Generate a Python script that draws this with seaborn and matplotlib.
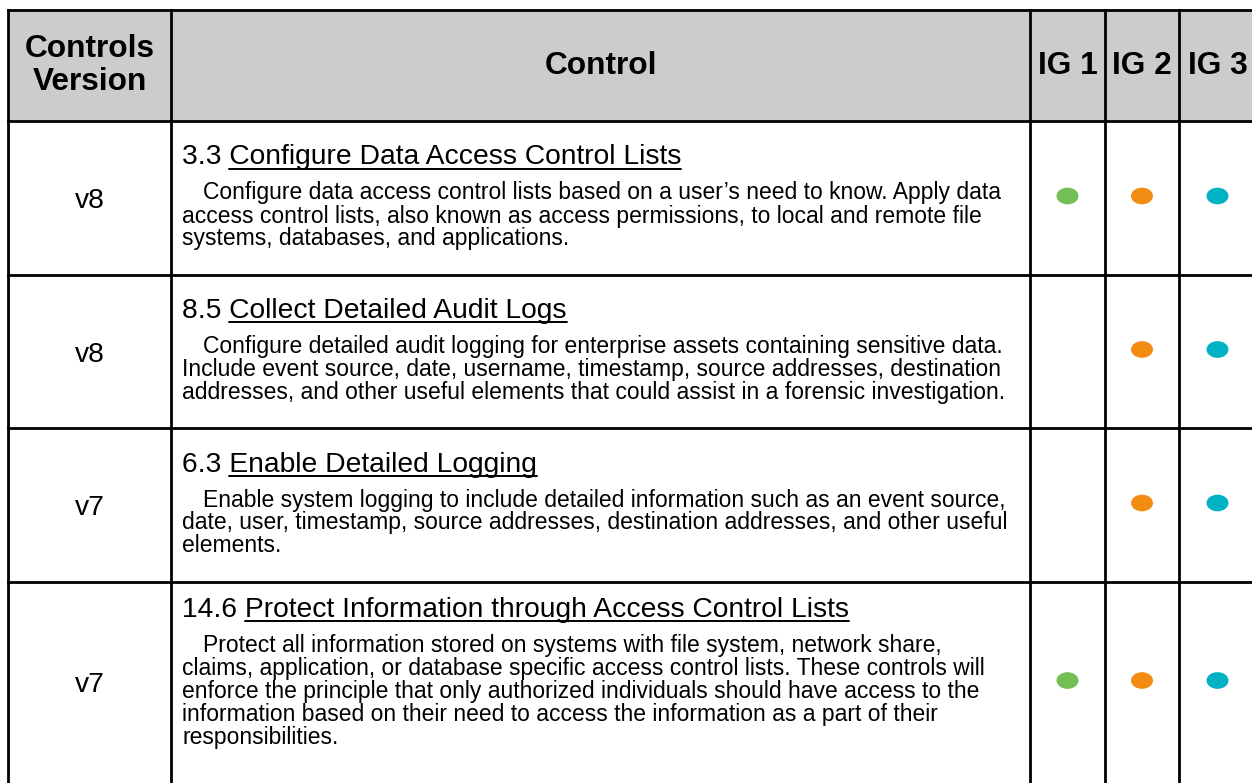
import numpy as np
import pandas as pd
import matplotlib
matplotlib.use("Agg")
import matplotlib.pyplot as plt
from matplotlib.path import Path
from matplotlib.transforms import Affine2D
import seaborn as sns

# table content
header_labels = ["Controls\nVersion", "Control", "IG 1", "IG 2", "IG 3"]
versions = ["v8", "v8", "v7", "v7"]
control_ids = ["3.3", "8.5", "6.3", "14.6"]
control_titles = [
    "Configure Data Access Control Lists",
    "Collect Detailed Audit Logs",
    "Enable Detailed Logging",
    "Protect Information through Access Control Lists",
]
descriptions = [
    ["Configure data access control lists based on a user\u2019s need to know. Apply data",
     "access control lists, also known as access permissions, to local and remote file",
     "systems, databases, and applications."],
    ["Configure detailed audit logging for enterprise assets containing sensitive data.",
     "Include event source, date, username, timestamp, source addresses, destination",
     "addresses, and other useful elements that could assist in a forensic investigation."],
    ["Enable system logging to include detailed information such as an event source,",
     "date, user, timestamp, source addresses, destination addresses, and other useful",
     "elements."],
    ["Protect all information stored on systems with file system, network share,",
     "claims, application, or database specific access control lists. These controls will",
     "enforce the principle that only authorized individuals should have access to the",
     "information based on their need to access the information as a part of their",
     "responsibilities."],
]
ig1 = [True, False, False, True]
ig2 = [True, True, True, True]
ig3 = [True, True, True, True]

ig_colors = {"IG 1": "#71bf55", "IG 2": "#f28c13", "IG 3": "#00b2c3"}

# layout in pixels
W, H = 1252, 783
col_edges = [8, 171, 1030, 1105, 1179, 1256]
row_edges = [10, 121, 275, 428, 582, 783]
text_shift = [0, 0, 0, -9]   # last row is cut off at the bottom
header_fill = "#cccccc"
line_w = 2.0

sns.set_theme(style="white")
plt.rcParams['font.family'] = ['Liberation Sans', 'DejaVu Sans']

fig = plt.figure(figsize=(W / 100, H / 100), dpi=100)
ax = fig.add_axes([0, 0, 1, 1])
ax.set_xlim(0, W)
ax.set_ylim(H, 0)
ax.axis('off')

# header background
ax.fill_between([col_edges[0], col_edges[-1]], row_edges[0], row_edges[1],
                color=header_fill, zorder=0, linewidth=0)

# grid lines
for x in col_edges:
    ax.plot([x, x], [row_edges[0], H + 5], color='black', lw=line_w, zorder=3,
            solid_capstyle='projecting')
for y in row_edges[:-1]:
    ax.plot([col_edges[0], col_edges[-1]], [y, y], color='black', lw=line_w, zorder=3,
            solid_capstyle='projecting')

# header text
hdr_y = (row_edges[0] + row_edges[1]) / 2
for i, lab in enumerate(header_labels):
    cx = (col_edges[i] + col_edges[i + 1]) / 2
    ax.text(cx, hdr_y, lab, ha='center', va='center', fontsize=22.8,
            fontweight='bold', color='black', linespacing=1.12)

renderer = fig.canvas.get_renderer()

title_fs = 20.3
body_fs = 16.5
title_asc = 19
cap_half = 10
gap = 35
line_h = 23
desc_pad = 5
text_x = col_edges[1] + 11
indent = 21

for r in range(len(versions)):
    top, bot = row_edges[r + 1], row_edges[r + 2]
    cy = (top + bot) / 2
    ax.text((col_edges[0] + col_edges[1]) / 2, cy + cap_half, versions[r], ha='center',
            va='baseline', fontsize=title_fs, color='black')

    n = len(descriptions[r])
    block = title_asc + gap + (n - 1) * line_h + desc_pad
    base = cy - block / 2 + title_asc + text_shift[r]

    full = f"{control_ids[r]} {control_titles[r]}"
    t_full = ax.text(text_x, base, full, ha='left', va='baseline',
                     fontsize=title_fs, color='black')
    t_name = ax.text(0, 0, control_titles[r], fontsize=title_fs, alpha=0)
    w_full = t_full.get_window_extent(renderer).width
    w_name = t_name.get_window_extent(renderer).width
    t_name.remove()
    x_end = text_x + w_full
    ax.plot([x_end - w_name, x_end], [base + 4, base + 4], color='black', lw=1.4)

    for k, line in enumerate(descriptions[r]):
        x0 = text_x + (indent if k == 0 else 0)
        ax.text(x0, base + gap + k * line_h, line, ha='left', va='baseline',
                fontsize=body_fs, color='black')

# IG dots
rows = []
for r in range(len(versions)):
    cy = (row_edges[r + 1] + row_edges[r + 2]) / 2
    for j, (name, flags) in enumerate(zip(["IG 1", "IG 2", "IG 3"], [ig1, ig2, ig3])):
        if flags[r]:
            cx = (col_edges[j + 2] + col_edges[j + 3]) / 2
            rows.append({"x": cx, "y": cy - 2, "ig": name})
dots = pd.DataFrame(rows)

ellipse = Path.unit_circle().transformed(Affine2D().scale(1.0, 0.76))
sns.scatterplot(data=dots, x="x", y="y", hue="ig", palette=ig_colors, marker=ellipse,
                s=250, linewidth=0, legend=False, ax=ax, zorder=4)
ax.set_xlim(0, W)
ax.set_ylim(H, 0)
ax.axis('off')

fig.savefig("out.png", dpi=100)
